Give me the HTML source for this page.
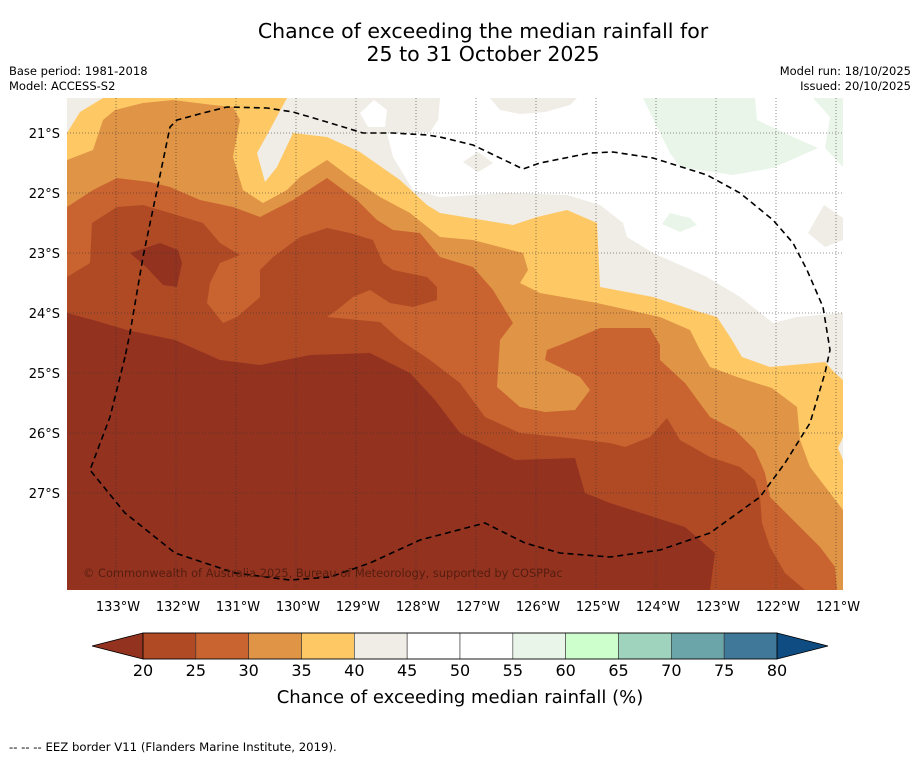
<!DOCTYPE html>
<html><head><meta charset="utf-8"><style>
body{margin:0;background:#fff;}
svg{display:block;font-family:"DejaVu Sans","Liberation Sans",sans-serif;}
</style></head><body>
<svg id="chart" width="919" height="758" viewBox="0 0 919 758" xmlns="http://www.w3.org/2000/svg">
<text x="483" y="38" font-size="20.5" text-anchor="middle">Chance of exceeding the median rainfall for</text>
<text x="483" y="61" font-size="20.5" text-anchor="middle">25 to 31 October 2025</text>
<text x="9" y="75" font-size="11.5">Base period: 1981-2018</text>
<text x="9" y="90" font-size="11.5">Model: ACCESS-S2</text>
<text x="911" y="75" font-size="11.5" text-anchor="end">Model run: 18/10/2025</text>
<text x="911" y="90" font-size="11.5" text-anchor="end">Issued: 20/10/2025</text>
<defs><clipPath id="mapclip"><rect x="67" y="98" width="776" height="492"/></clipPath></defs>
<g id="map" clip-path="url(#mapclip)">
<rect x="67" y="98" width="776" height="492" fill="#f0ece6"/>
<polygon fill="#ffffff" points="440,98 438,120 430,132 387,133 393,157 413,190 440,197 507,193 567,195 600,205 623,223 627,237 653,253 707,277 740,297 773,323 797,317 843,313 843,98"/>
<polygon fill="#ffffff" points="374,100 387,110 385,127 368,127 360,113"/>
<polygon fill="#f0ece6" points="490,98 577,98 570,105 545,112 520,114 500,110"/>
<polygon fill="#f0ece6" points="478,152 493,163 478,172 463,162"/>
<polygon fill="#f0ece6" points="824,205 843,218 843,240 825,247 808,233"/>
<polygon fill="#eaf5ea" points="643,98 657,127 670,153 680,167 733,175 773,168 818,148 793,137 757,120 755,98"/>
<polygon fill="#eaf5ea" points="813,98 830,117 825,148 843,167 843,98"/>
<polygon fill="#eaf5ea" points="670,213 690,218 697,225 680,232 662,224"/>
<polygon fill="#fec965" points="67,133 80,112 103,98 287,98 267,135 257,153 265,182 277,167 293,133 327,137 360,152 400,180 427,205 440,213 513,225 537,217 567,210 597,223 600,287 653,297 693,310 717,317 732,340 742,357 770,367 825,362 835,373 843,380 843,437 838,448 843,460 843,590 67,590"/>
<polygon fill="#e09445" points="67,160 93,150 103,120 115,110 143,103 173,100 213,105 233,107 240,120 233,157 243,190 263,203 287,190 300,177 327,160 350,177 380,197 410,213 440,237 473,240 523,253 528,270 520,283 540,293 597,303 660,317 690,330 700,350 710,367 740,378 772,388 797,407 800,440 810,467 830,493 843,510 843,590 67,590"/>
<polygon fill="#c96430" points="67,207 93,190 117,178 150,182 170,187 200,200 233,207 260,217 293,200 327,178 357,200 377,220 393,230 420,233 440,257 473,267 493,290 513,323 500,340 497,387 520,407 545,412 575,410 590,390 580,377 545,360 547,350 565,343 600,328 650,328 660,345 660,360 685,383 710,417 735,430 755,450 765,473 770,497 800,527 820,547 835,567 837,590 67,590"/>
<polygon fill="#b04a25" points="67,277 90,263 92,223 117,207 143,205 170,213 203,223 220,243 240,255 220,263 210,283 207,303 223,323 237,317 260,297 260,270 273,257 300,237 327,228 350,233 373,240 383,263 393,270 427,277 437,287 437,300 413,307 390,303 370,290 353,297 337,310 327,317 380,322 400,340 430,360 460,383 485,417 520,433 560,437 610,443 625,447 650,437 667,418 680,440 710,457 740,467 755,480 760,497 762,523 770,547 785,573 805,590 67,590"/>
<polygon fill="#943220" points="67,313 93,320 127,330 175,340 220,360 260,365 310,355 370,353 410,373 435,400 460,433 515,460 575,458 585,493 610,503 685,527 715,553 710,590 67,590"/>
<polygon fill="#943220" points="130,253 160,243 178,250 182,263 177,287 163,285 147,268"/>
<g id="grid" stroke="#333" stroke-width="0.8" stroke-dasharray="1,2" opacity="0.7"></g>
<polyline fill="none" stroke="#000" stroke-width="1.6" stroke-dasharray="6,4" points="125,357 110,417 90,470 125,513 175,553 235,573 290,580 330,577 370,563 420,540 485,523 525,543 560,553 610,557 660,550 710,533 760,497 785,463 810,423 825,373 830,350 823,307 807,270 793,243 773,220 740,193 707,175 653,158 613,152 590,153 540,163 523,169 473,145 440,137 427,135 393,133 363,133 327,122 293,112 267,108 227,107 203,113 177,120 170,127 157,190 143,257 130,333 125,357"/>
<text x="83" y="577" font-size="11.4" fill="#4a1a0c" opacity="0.85">© Commonwealth of Australia 2025, Bureau of Meteorology, supported by COSPPac</text>
</g>
<g id="axes"></g>
<g id="colorbar"></g>
<text x="460" y="703" font-size="18" text-anchor="middle">Chance of exceeding median rainfall (%)</text>
<text x="9" y="751" font-size="11.7">--  --  -- EEZ border V11 (Flanders Marine Institute, 2019).</text>
</svg>
<script>
const lonTicks = [133,132,131,130,129,128,127,126,125,124,123,122,121];
const latTicks = [21,22,23,24,25,26,27];
const levels = [20,25,30,35,40,45,50,55,60,65,70,75,80];
const bandColors = ['#b04a25','#c96430','#e09445','#fec965','#f0ece6','#ffffff','#ffffff','#eaf5ea','#ccffcc','#9fd3bd','#6ca5a9','#3f7898'];
const underColor = '#943220';
const overColor = '#0f4c81';
const NS='http://www.w3.org/2000/svg';
const xLon = lon => 116 + (133 - lon) * 60;
const yLat = lat => 133 + (lat - 21) * 60;
const xLev = v => 143 + (v - 20) * (634 / 60);
function mk(tag, attrs, parent){const e=document.createElementNS(NS,tag);for(const k in attrs)e.setAttribute(k,attrs[k]);parent.appendChild(e);return e;}
const grid=document.getElementById('grid'), axes=document.getElementById('axes'), cb=document.getElementById('colorbar');
lonTicks.forEach(l=>{
  const ln=mk('line',{x1:xLon(l),x2:xLon(l),y1:98,y2:590},grid);
  
  
  const t=mk('text',{x:xLon(l)+2,y:611,'font-size':13,'text-anchor':'middle'},axes);
  t.textContent=l+'°W';
  
  
});
latTicks.forEach(l=>{
  const ln=mk('line',{x1:67,x2:843,y1:yLat(l),y2:yLat(l)},grid);
  
  
  const t=mk('text',{x:60,y:yLat(l)+5,'font-size':13,'text-anchor':'end'},axes);
  t.textContent=l+'°S';
  
  
});
const y0=633,y1=659;
const lo=mk('polygon',{points:`${xLev(levels[0])},${y0} 92,${(y0+y1)/2} ${xLev(levels[0])},${y1}`,fill:underColor,stroke:'#000','stroke-width':0.8},cb);


const hi=mk('polygon',{points:`${xLev(levels[levels.length-1])},${y0} 828,${(y0+y1)/2} ${xLev(levels[levels.length-1])},${y1}`,fill:overColor,stroke:'#000','stroke-width':0.8},cb);


bandColors.forEach((c,i)=>{
  const r=mk('rect',{x:xLev(levels[i]),y:y0,width:xLev(levels[i+1])-xLev(levels[i]),height:y1-y0,fill:c,stroke:'#333','stroke-width':0.6},cb);
  
  
});
mk('rect',{x:xLev(20),y:y0,width:xLev(80)-xLev(20),height:y1-y0,fill:'none',stroke:'#000','stroke-width':0.8},cb);
levels.forEach(v=>{
  const t=mk('text',{x:xLev(v),y:676,'font-size':16,'text-anchor':'middle'},cb);
  t.textContent=v;
  
  
});
</script>
</body></html>
